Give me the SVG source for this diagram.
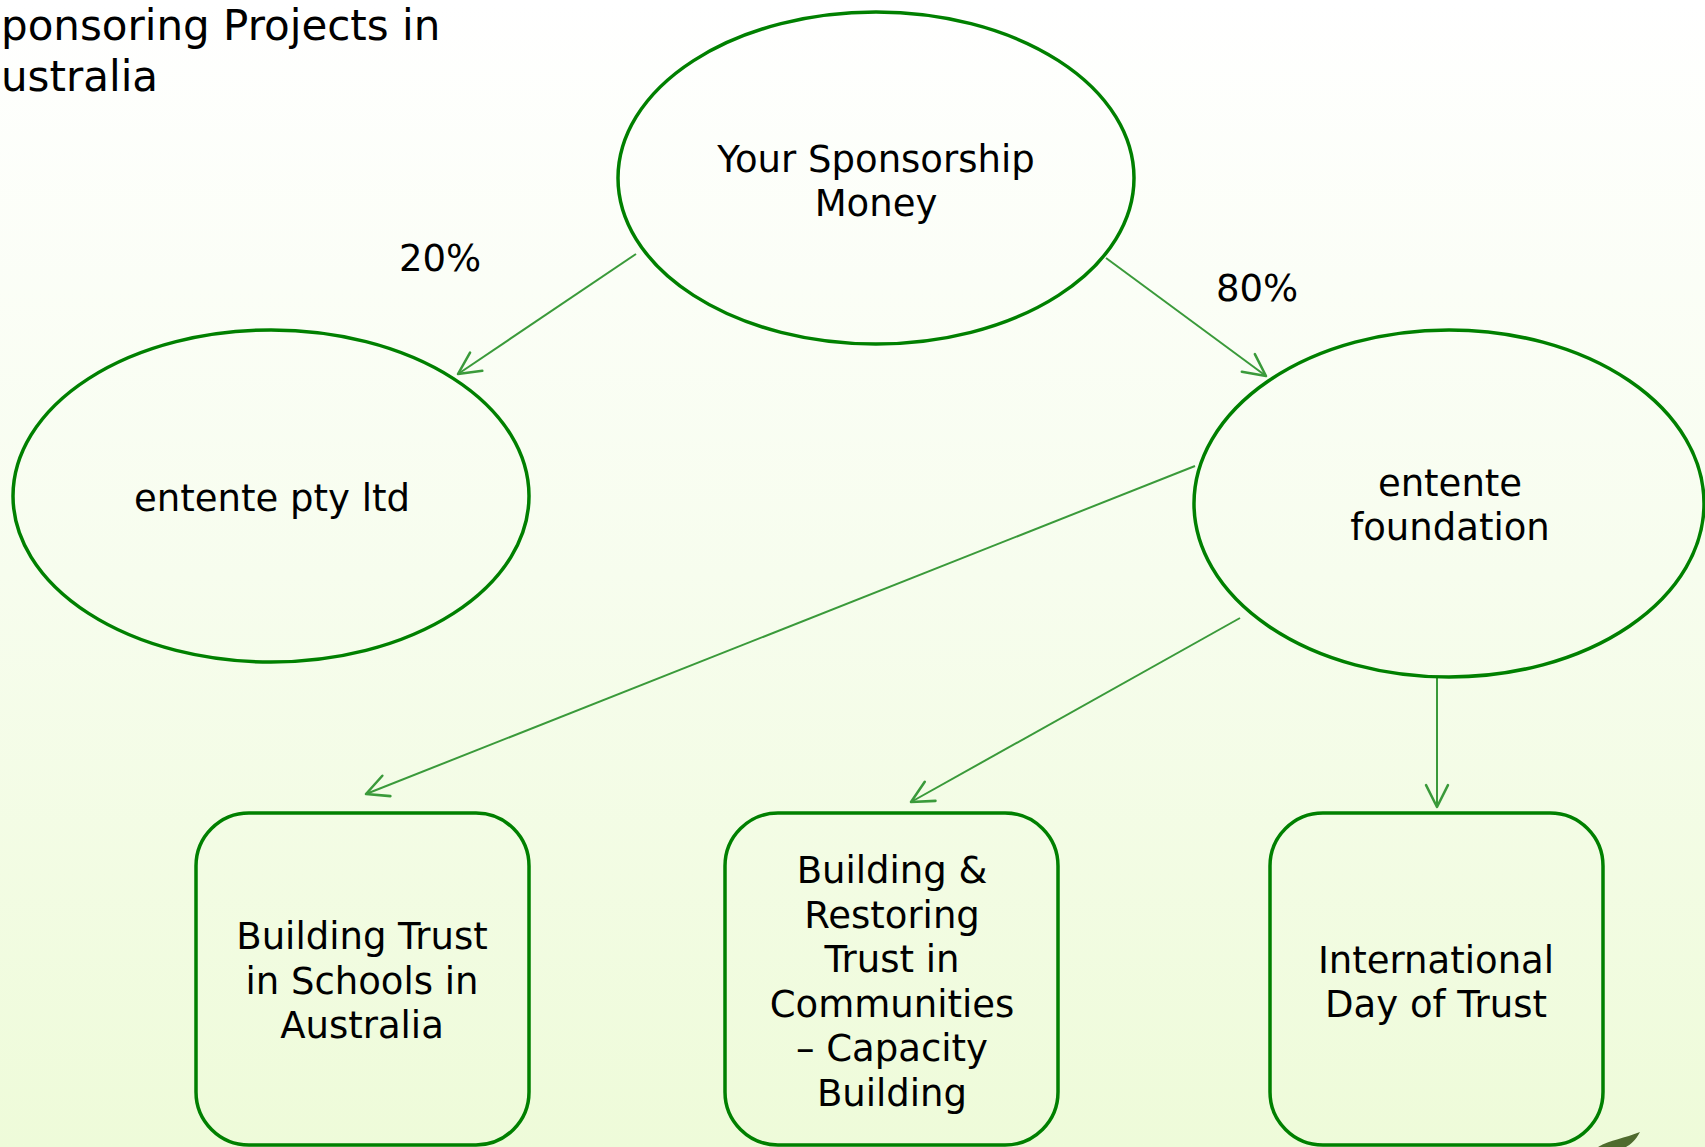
<svg xmlns="http://www.w3.org/2000/svg" width="1705" height="1147" viewBox="0 0 1705 1147">
  <defs>
    <linearGradient id="bg" x1="0" y1="0" x2="0" y2="1">
      <stop offset="0" stop-color="#ffffff"/>
      <stop offset="0.5" stop-color="#f7fdee"/>
      <stop offset="1" stop-color="#eefbd9"/>
    </linearGradient>
    <marker id="arr" markerUnits="userSpaceOnUse" markerWidth="30" markerHeight="30" viewBox="-22 -12 26 24" refX="0" refY="0" orient="auto">
      <path d="M-19,-9.5 L0,0 L-19,9.5" fill="none" stroke="#3a9a3a" stroke-width="2.2" stroke-linecap="round" stroke-linejoin="round"/>
    </marker>
    <style>
      .node { fill: none; stroke: #008000; stroke-width: 3.5; }
      .lbl { font-family: "DejaVu Sans", Verdana, sans-serif; font-size: 37px; fill: #000000; text-anchor: middle; }
      .title { font-family: "DejaVu Sans", Verdana, sans-serif; font-size: 42px; fill: #000000; }
      .conn { fill: none; stroke: #3a9a3a; stroke-width: 2; marker-end: url(#arr); }
    </style>
  </defs>
  <rect x="0" y="0" width="1705" height="1147" fill="url(#bg)"/>
  <path d="M1598,1147 C1610,1140 1625,1138 1640,1132 C1636,1140 1630,1145 1626,1147 Z" fill="#4f6b2e"/>

  <g id="title">
    <text class="title" x="1" y="40">ponsoring Projects in</text>
    <text class="title" x="1" y="91">ustralia</text>
  </g>

  <g id="connectors">
    <line class="conn" x1="636" y1="254" x2="458" y2="374"/>
    <line class="conn" x1="1106" y1="258" x2="1266" y2="376"/>
    <line class="conn" x1="1195" y1="466" x2="366" y2="794"/>
    <line class="conn" x1="1240" y1="618" x2="911" y2="802"/>
    <line class="conn" x1="1437" y1="677" x2="1437" y2="807"/>
    <text class="lbl" x="440" y="271">20%</text>
    <text class="lbl" x="1257" y="301">80%</text>
  </g>

  <g id="node-sponsorship">
    <ellipse class="node" cx="876" cy="178" rx="258" ry="166"/>
    <text class="lbl" x="876" y="172">Your Sponsorship</text>
    <text class="lbl" x="876" y="216">Money</text>
  </g>

  <g id="node-pty">
    <ellipse class="node" cx="271" cy="496" rx="258" ry="166"/>
    <text class="lbl" x="272" y="511">entente pty ltd</text>
  </g>

  <g id="node-foundation">
    <ellipse class="node" cx="1449" cy="503.5" rx="255" ry="173.5"/>
    <text class="lbl" x="1450" y="496">entente</text>
    <text class="lbl" x="1450" y="540">foundation</text>
  </g>

  <g id="node-schools">
    <rect class="node" x="196" y="813" width="333" height="332" rx="53" ry="53"/>
    <text class="lbl" x="362" y="949">Building Trust</text>
    <text class="lbl" x="362" y="994">in Schools in</text>
    <text class="lbl" x="362" y="1038">Australia</text>
  </g>

  <g id="node-communities">
    <rect class="node" x="725" y="813" width="333" height="332" rx="53" ry="53"/>
    <text class="lbl" x="892" y="883">Building &amp;</text>
    <text class="lbl" x="892" y="928">Restoring</text>
    <text class="lbl" x="892" y="972">Trust in</text>
    <text class="lbl" x="892" y="1017">Communities</text>
    <text class="lbl" x="892" y="1061">– Capacity</text>
    <text class="lbl" x="892" y="1106">Building</text>
  </g>

  <g id="node-dayoftrust">
    <rect class="node" x="1270" y="813" width="333" height="332" rx="53" ry="53"/>
    <text class="lbl" x="1436" y="973">International</text>
    <text class="lbl" x="1436" y="1017">Day of Trust</text>
  </g>
</svg>
